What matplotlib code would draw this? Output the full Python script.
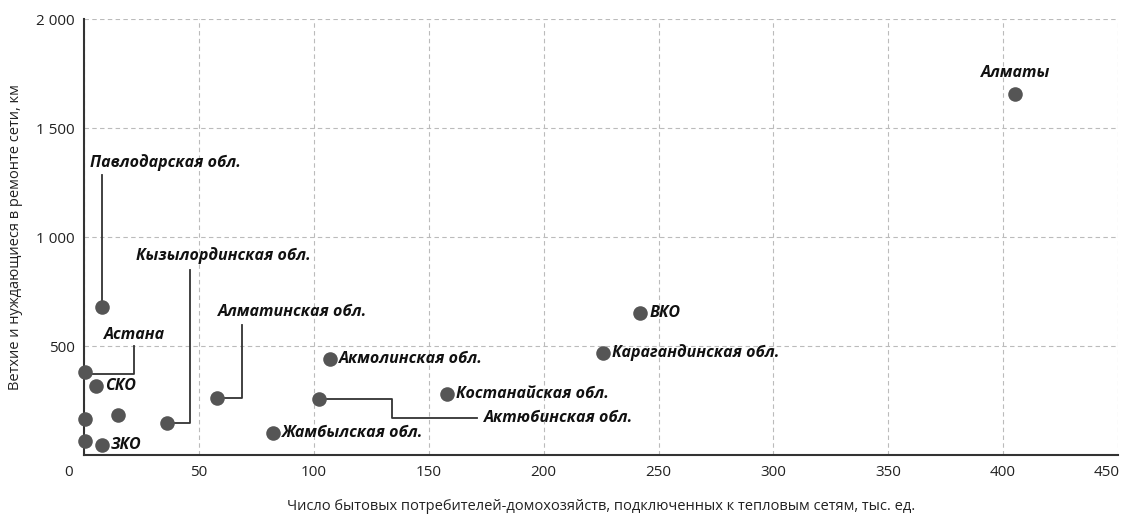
import matplotlib.pyplot as plt
from matplotlib import font_manager
from matplotlib.transforms import ScaledTranslation

# households connected (thousand) vs worn-out networks (km)
names = ['Алматы', 'ВКО', 'Карагандинская обл.', 'Костанайская обл.',
         'Акмолинская обл.', 'Актюбинская обл.', 'Жамбылская обл.',
         'Алматинская обл.', 'Кызылординская обл.', 'Павлодарская обл.',
         'Астана', 'СКО', 'ЗКО', '', '', '']
households = [405, 242, 226, 158, 107, 102, 82, 58, 36, 7.7, 0.3, 5.2, 7.7, 14.5, 0.3, 0.3]
network_km = [1655, 654, 469, 280, 441, 256, 100, 263, 146, 677, 380, 317, 46, 184, 166, 66]

x_ticks = [0, 50, 100, 150, 200, 250, 300, 350, 400, 450]
y_ticks = [0, 500, 1000, 1500, 2000]

installed = {f.name for f in font_manager.fontManager.ttflist}
fam = 'Open Sans' if 'Open Sans' in installed else 'DejaVu Sans'
plt.rcParams['font.family'] = [fam, 'DejaVu Sans']

dot = '#555555'
ink = '#333333'

fig = plt.figure(figsize=(11.23, 5.2), dpi=100)
ax = fig.add_axes([0.075, 0.125, 0.9205, 0.838])

ax.scatter(households, network_km, s=110, color=dot, zorder=3, clip_on=False,
           linewidths=0)

ax.set_xlim(0, 450)
ax.set_ylim(0, 2000)
ax.set_xticks(x_ticks)
ax.set_yticks(y_ticks)
ax.set_yticklabels(['' if v == 0 else f'{v:,}'.replace(',', ' ') for v in y_ticks])
ax.tick_params(length=0, labelsize=11, colors='#222222', pad=7)
ax.grid(True, linestyle=(0, (4, 3)), color='#bbbbbb', linewidth=0.8)
ax.set_axisbelow(True)
for s in ['top', 'right']:
    ax.spines[s].set_visible(False)
for s in ['left', 'bottom']:
    ax.spines[s].set_color(ink)
    ax.spines[s].set_linewidth(1.5)

# first and last x labels sit inside the figure like in the source
xl = ax.get_xticklabels()
xl[0].set_transform(xl[0].get_transform() + ScaledTranslation(-0.16, 0, fig.dpi_scale_trans))
xl[-1].set_horizontalalignment('right')
xl[-1].set_transform(xl[-1].get_transform() + ScaledTranslation(0.02, 0, fig.dpi_scale_trans))

ax.set_xlabel('Число бытовых потребителей-домохозяйств, подключенных к тепловым сетям, тыс. ед.',
              fontsize=10.5, color='#222222', labelpad=14)
ax.set_ylabel('Ветхие и нуждающиеся в ремонте сети, км', fontsize=10.5,
              color='#222222', labelpad=9)

lab = dict(fontsize=11.5, fontweight='bold', style='italic', color='#111111')
lead = dict(color=ink, linewidth=1.3, zorder=2, clip_on=False)
pt = dict(zip(names, zip(households, network_km)))

# labels right of the dot
for n in ['ВКО', 'Карагандинская обл.', 'Костанайская обл.', 'Акмолинская обл.',
          'Жамбылская обл.', 'СКО', 'ЗКО']:
    ax.annotate(n, pt[n], xytext=(6.5, 0), textcoords='offset points',
                va='center', ha='left', **lab)

# label above the dot
ax.annotate('Алматы', pt['Алматы'], xytext=(1, 10), textcoords='offset points',
            va='bottom', ha='center', **lab)

# leader lines
px, py = pt['Павлодарская обл.']
ax.plot([px, px], [py, 1287], **lead)
ax.text(2.5, 1305, 'Павлодарская обл.', va='bottom', ha='left', **lab)

px, py = pt['Кызылординская обл.']
ax.plot([px, 46.2, 46.2], [py, py, 848], **lead)
ax.text(22.6, 875, 'Кызылординская обл.', va='bottom', ha='left', **lab)

px, py = pt['Алматинская обл.']
ax.plot([px, 68.5, 68.5], [py, py, 598], **lead)
ax.text(58.4, 618, 'Алматинская обл.', va='bottom', ha='left', **lab)

px, py = pt['Астана']
ax.plot([px, 21.5, 21.5], [py - 10, py - 10, 498], **lead)
ax.text(8.7, 512, 'Астана', va='bottom', ha='left', **lab)

px, py = pt['Актюбинская обл.']
ax.plot([px, 134, 134, 171], [py, py, 171, 171], **lead)
ax.text(173.8, 171, 'Актюбинская обл.', va='center', ha='left', **lab)

fig.savefig('out.png', dpi=100)
